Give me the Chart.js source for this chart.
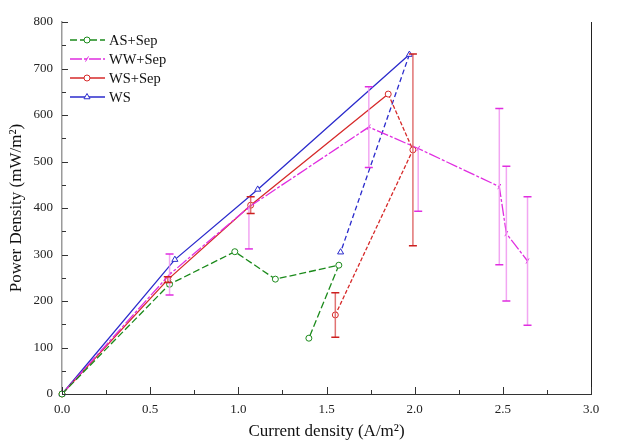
<!DOCTYPE html>
<html>
<head>
<meta charset="utf-8">
<script src="https://cdn.jsdelivr.net/npm/chart.js@4.4.1/dist/chart.umd.min.js"></script>
<style>
html, body { margin: 0; padding: 0; background: #fff; }
</style>
</head>
<body>
<canvas id="myChart" width="637" height="444"></canvas>
<script>
// valores
const asX = [0, 0.61, 0.98, 1.21, 1.57, 1.40];
const asY = [0, 236, 306, 247, 277, 120];

const wwX = [0, 0.61, 1.06, 1.74, 2.02, 2.48, 2.52, 2.64];
const wwY = [0, 257, 402, 574, 528, 446, 345, 286];
const wwErrUp = [0, 44, 0, 87, 0, 168, 145, 138];
const wwErrDown = [0, 44, 90, 87, 135, 168, 145, 138];

const wsSepX = [0, 0.60, 1.07, 1.85, 1.99, 1.55];
const wsSepY = [0, 246, 406, 645, 525, 170];
const wsSepErrUp = [0, 6, 18, 0, 206, 48];
const wsSepErrDown = [0, 6, 18, 0, 206, 48];

const wsX = [0, 0.64, 1.11, 1.97, 1.58];
const wsY = [0, 289, 440, 730, 305];

const xTicks = [0, 0.5, 1.0, 1.5, 2.0, 2.5, 3.0];
const yTicks = [0, 100, 200, 300, 400, 500, 600, 700, 800];

const FONT = "'Liberation Serif', 'Times New Roman', serif";

function toPts(xs, ys) {
  return xs.map((x, i) => ({ x: x, y: ys[i] }));
}

// punteado despues del maximo (cuando la curva baja o regresa)
function dashBack(dash) {
  return ctx => (ctx.p1.parsed.x < ctx.p0.parsed.x || ctx.p1.parsed.y < ctx.p0.parsed.y ? dash : undefined);
}

const series = [
  { label: 'AS+Sep', data: toPts(asX, asY), color: '#1b8a1b', dash: [7, 3], style: 'circle', rot: 0, r: 3 },
  { label: 'WW+Sep', data: toPts(wwX, wwY), color: '#e02ee0', dash: [12, 2, 3, 2], style: 'line', rot: -60, r: 3 },
  { label: 'WS+Sep', data: toPts(wsSepX, wsSepY), color: '#d62a2a', dash: null, back: [4, 2], style: 'circle', rot: 0, r: 3 },
  { label: 'WS', data: toPts(wsX, wsY), color: '#2b2bcc', dash: null, back: [5, 3], style: 'triangle', rot: 0, r: 3.5 }
];

const errSets = [
  { xs: wwX, ys: wwY, up: wwErrUp, down: wwErrDown, stem: 'rgba(240,150,240,0.85)', cap: '#e02ee0' },
  { xs: wsSepX, ys: wsSepY, up: wsSepErrUp, down: wsSepErrDown, stem: 'rgba(222,100,100,0.9)', cap: '#cc1f1f' }
];

const errorBars = {
  id: 'errorBars',
  afterDatasetsDraw(chart) {
    const c = chart.ctx;
    const xs = chart.scales.x, ys = chart.scales.y;
    c.save();
    errSets.forEach(s => {
      s.xs.forEach((xv, i) => {
        const eu = s.up[i], ed = s.down[i];
        if (!eu && !ed) return;
        const px = xs.getPixelForValue(xv);
        const top = ys.getPixelForValue(s.ys[i] + eu);
        const bot = ys.getPixelForValue(s.ys[i] - ed);
        c.strokeStyle = s.stem;
        c.lineWidth = 1.5;
        c.beginPath(); c.moveTo(px, top); c.lineTo(px, bot); c.stroke();
        c.strokeStyle = s.cap;
        c.beginPath();
        if (eu) { c.moveTo(px - 4, top); c.lineTo(px + 4, top); }
        if (ed) { c.moveTo(px - 4, bot); c.lineTo(px + 4, bot); }
        c.stroke();
      });
    });
    c.restore();
  }
};

const frameTicks = {
  id: 'frameTicks',
  afterDraw(chart) {
    const c = chart.ctx;
    const a = chart.chartArea;
    const xs = chart.scales.x, ys = chart.scales.y;
    c.save();
    // linea derecha del marco
    c.strokeStyle = '#222';
    c.lineWidth = 1;
    c.beginPath(); c.moveTo(a.right + 0.5, a.top); c.lineTo(a.right + 0.5, a.bottom); c.stroke();
    // ticks hacia adentro
    c.strokeStyle = '#333';
    c.beginPath();
    for (let v = 0; v <= 800; v += 50) {
      const py = Math.round(ys.getPixelForValue(v)) + 0.5;
      const len = v % 100 === 0 ? 6 : 4;
      c.moveTo(a.left, py); c.lineTo(a.left + len, py);
    }
    for (let v = 0; v <= 3.0001; v += 0.25) {
      const px = Math.round(xs.getPixelForValue(v)) + 0.5;
      const len = Math.abs(v * 2 - Math.round(v * 2)) < 0.01 ? 7 : 4;
      c.moveTo(px, a.bottom); c.lineTo(px, a.bottom - len);
    }
    c.stroke();
    // leyenda
    c.font = '14.5px ' + FONT;
    c.textBaseline = 'middle';
    const rows = [40, 59, 78, 97];
    series.forEach((s, i) => {
      const y = rows[i];
      c.strokeStyle = s.color;
      c.lineWidth = 1.3;
      c.setLineDash(s.dash || []);
      c.beginPath(); c.moveTo(70, y); c.lineTo(105, y); c.stroke();
      c.setLineDash([]);
      c.fillStyle = '#fff';
      c.strokeStyle = s.color;
      c.lineWidth = 1;
      Chart.helpers.drawPoint(c, {
        pointStyle: s.style, rotation: s.rot, radius: s.r, borderWidth: 1
      }, 87, y);
      c.fillStyle = '#111';
      c.fillText(s.label, 109, y + 1);
    });
    c.restore();
  }
};

const ctx = document.getElementById('myChart');
const myChart = new Chart(ctx, {
  type: 'scatter',
  data: {
    datasets: series.map(s => ({
      label: s.label,
      data: s.data,
      showLine: true,
      borderColor: s.color,
      backgroundColor: '#fff',
      borderWidth: 1.3,
      borderDash: s.dash || [],
      segment: s.back ? { borderDash: dashBack(s.back) } : {},
      pointStyle: s.style,
      pointRotation: s.rot,
      pointRadius: s.r,
      pointBorderColor: s.color,
      pointBackgroundColor: '#fff',
      pointBorderWidth: 1,
      tension: 0,
      clip: false
    }))
  },
  options: {
    responsive: false,
    animation: false,
    layout: { padding: { left: 0, top: 22, right: 46, bottom: 0 } },
    plugins: {
      legend: { display: false },
      tooltip: { enabled: false }
    },
    scales: {
      x: {
        type: 'linear',
        min: 0, max: 3,
        afterFit: s => { s.height = 50; },
        afterBuildTicks: s => { s.ticks = xTicks.map(v => ({ value: v })); },
        ticks: {
          padding: 8,
          color: '#222',
          font: { family: FONT, size: 13 },
          callback: v => Number(v).toFixed(1)
        },
        grid: { display: true, drawOnChartArea: false, drawTicks: false },
        border: { display: true, color: '#333', width: 1 },
        title: {
          display: true,
          text: 'Current density (A/m²)',
          color: '#111',
          font: { family: FONT, size: 17 },
          padding: { top: 0, bottom: 2 }
        }
      },
      y: {
        type: 'linear',
        min: 0, max: 800,
        afterFit: s => { s.width = 62; },
        afterBuildTicks: s => { s.ticks = yTicks.map(v => ({ value: v })); },
        ticks: {
          padding: 9,
          color: '#222',
          font: { family: FONT, size: 13 }
        },
        grid: { display: true, drawOnChartArea: false, drawTicks: false },
        border: { display: true, color: '#9a9a9a', width: 1.5 },
        title: {
          display: true,
          text: 'Power Density (mW/m²)',
          color: '#111',
          font: { family: FONT, size: 17 },
          padding: { top: 6, bottom: 0 }
        }
      }
    }
  },
  plugins: [errorBars, frameTicks]
});
</script>
</body>
</html>
